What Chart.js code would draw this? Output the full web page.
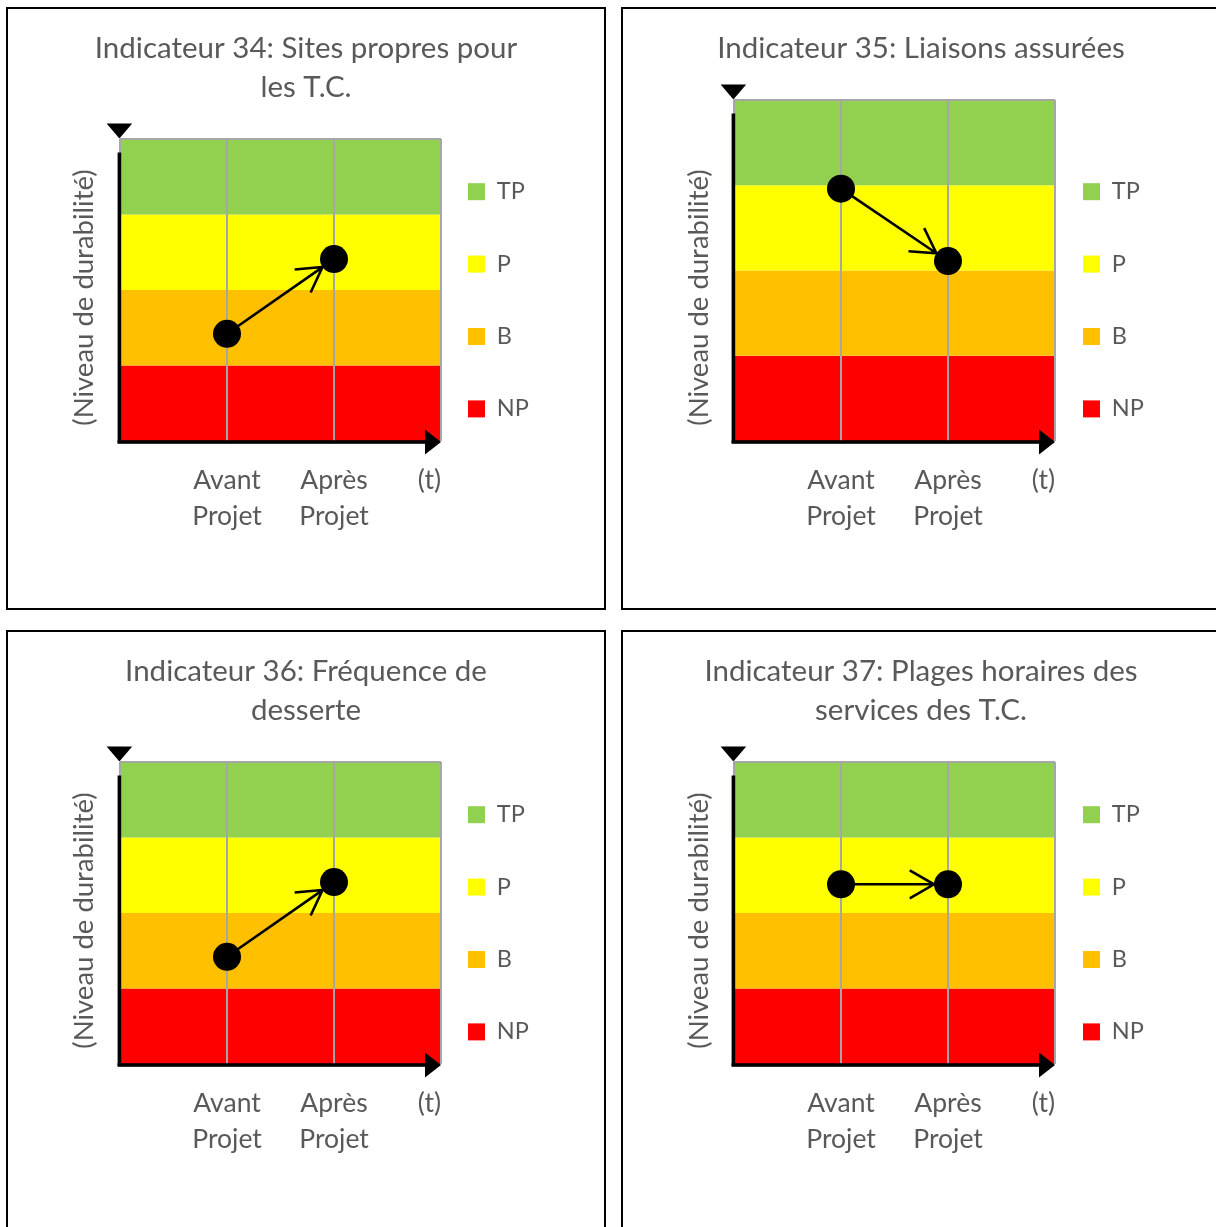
<!DOCTYPE html>
<html>
<head>
<meta charset="utf-8">
<script src="https://cdn.jsdelivr.net/npm/chart.js@4/dist/chart.umd.min.js"></script>
<style>
html, body { margin: 0; padding: 0; background: #fff; overflow: hidden; width: 1216px; height: 1227px; }
.panel { position: absolute; width: 596px; height: 599px; border: 2px solid #000; background: #fff; }
.panel canvas { display: block; }
</style>
</head>
<body>
<div class="panel" style="left:6px;top:7px"><canvas id="c34"></canvas></div>
<div class="panel" style="left:621px;top:7px"><canvas id="c35"></canvas></div>
<div class="panel" style="left:6px;top:630px"><canvas id="c36"></canvas></div>
<div class="panel" style="left:621px;top:630px"><canvas id="c37"></canvas></div>
<script>
// ---- data ----
const bandLabels = ['TP', 'P', 'B', 'NP'];
const bandTops = [4, 3, 2, 1];
const bandColors = ['#92D050', '#FFFF00', '#FFC000', '#FF0000'];
const xTickLabels = ['', ['Avant', 'Projet'], ['Après', 'Projet'], '(t)'];
const xRange = [0, 3];
const yRange = [0, 4];
const pointX = [1, 2];
const yAxisTitle = '(Niveau de durabilité)';

const title34 = ['Indicateur 34: Sites propres pour', 'les T.C.'];
const title35 = ['Indicateur 35: Liaisons assurées'];
const title36 = ['Indicateur 36: Fréquence de', 'desserte'];
const title37 = ['Indicateur 37: Plages horaires des', 'services des T.C.'];

const values34 = [1.42, 2.41];
const values35 = [2.96, 2.11];
const values36 = [1.42, 2.41];
const values37 = [2.38, 2.38];

// ---- styles ----
const FONT = 'Lato';
const TEXT = '#595959';
const GRID = '#A6A6A6';
const LEGEND_FONT = 23.5;
const LEGEND_PAD = 48.9;

Chart.defaults.font.family = FONT;
Chart.defaults.color = TEXT;

const decor = {
  id: 'decor',
  beforeLayout(chart, args, opts) {
    const lg = chart.legend;
    if (lg && !lg.__fixed) {
      const fit = lg.fit.bind(lg);
      lg.fit = function () { fit(); this.width = opts.legendWidth; };
      lg.__fixed = true;
    }
  },
  afterLayout(chart, args, opts) {
    const lg = chart.legend;
    if (!lg) return;
    lg.left = chart.chartArea.right + opts.legendGap - LEGEND_PAD;
    lg.top = opts.legendTop - LEGEND_PAD;
    lg.bottom = chart.height;
  },
  beforeDatasetDraw(chart, args) {
    if (args.index === 0) {
      chart.scales.x.drawGrid(chart.chartArea);
      chart.scales.y.drawGrid(chart.chartArea);
    }
  },
  afterDatasetsDraw(chart, args, opts) {
    const pts = chart.getDatasetMeta(0).data;
    if (pts.length < 2) return;
    const a = pts[0], b = pts[1];
    const ctx = chart.ctx;
    const dx = b.x - a.x, dy = b.y - a.y, L = Math.hypot(dx, dy);
    const ux = dx / L, uy = dy / L;
    const r = opts.pointRadius;
    const tx = b.x - ux * r, ty = b.y - uy * r;
    ctx.save();
    ctx.strokeStyle = '#000';
    ctx.lineWidth = 2.6;
    ctx.beginPath();
    ctx.moveTo(a.x, a.y);
    ctx.lineTo(tx, ty);
    const back = Math.atan2(-uy, -ux);
    const al = 28, ang = Math.PI / 6;
    ctx.moveTo(tx + al * Math.cos(back + ang), ty + al * Math.sin(back + ang));
    ctx.lineTo(tx, ty);
    ctx.lineTo(tx + al * Math.cos(back - ang), ty + al * Math.sin(back - ang));
    ctx.stroke();
    ctx.restore();
  },
  afterDraw(chart, args, opts) {
    const ctx = chart.ctx;
    const ca = chart.chartArea;
    ctx.save();
    ctx.fillStyle = '#000';
    // y axis line
    const yx = ca.left - 0.6;
    ctx.fillRect(yx - 1.8, ca.top + 13.5, 3.6, ca.bottom - ca.top - 11.5);
    // x axis line
    const xy = ca.bottom + 1;
    ctx.fillRect(ca.left - 2.4, xy - 1.8, ca.right - ca.left - 12, 3.6);
    // x arrow head
    ctx.beginPath();
    ctx.moveTo(ca.right - 16, xy - 12.5);
    ctx.lineTo(ca.right, xy);
    ctx.lineTo(ca.right - 16, xy + 12.5);
    ctx.closePath();
    ctx.fill();
    // y arrow head (pointing down)
    ctx.beginPath();
    ctx.moveTo(yx - 12.8, ca.top - 15.5);
    ctx.lineTo(yx + 12.8, ca.top - 15.5);
    ctx.lineTo(yx, ca.top - 0.5);
    ctx.closePath();
    ctx.fill();
    // y axis title
    ctx.translate(opts.yTitleX, opts.yTitleY);
    ctx.rotate(-Math.PI / 2);
    ctx.fillStyle = TEXT;
    ctx.font = '27.5px ' + FONT;
    ctx.textAlign = 'center';
    ctx.textBaseline = 'middle';
    ctx.fillText(yAxisTitle, 0, 0);
    ctx.restore();
  }
};

function makeChart(id, titleLines, values, leftWidth) {
  const datasets = [{
    label: 'points',
    data: pointX.map((x, i) => ({ x: x, y: values[i] })),
    showLine: false,
    pointRadius: 14,
    pointHoverRadius: 14,
    pointBackgroundColor: '#000',
    pointBorderColor: '#000',
    pointBorderWidth: 0,
    backgroundColor: '#000',
    borderColor: '#000'
  }];
  bandLabels.forEach((lab, i) => {
    datasets.push({
      label: lab,
      data: [{ x: xRange[0], y: bandTops[i] }, { x: xRange[1], y: bandTops[i] }],
      backgroundColor: bandColors[i],
      borderColor: 'transparent',
      borderWidth: 0,
      pointRadius: 0,
      pointHoverRadius: 0,
      fill: i === bandLabels.length - 1 ? 'origin' : '+1'
    });
  });

  return new Chart(document.getElementById(id), {
    type: 'line',
    data: { datasets: datasets },
    plugins: [decor],
    options: {
      responsive: true,
      maintainAspectRatio: false,
      animation: false,
      events: [],
      layout: { padding: 0 },
      scales: {
        x: {
          type: 'linear',
          min: xRange[0],
          max: xRange[1],
          afterFit: s => { s.height = 167; },
          grid: { color: GRID, lineWidth: 2, drawTicks: false },
          border: { display: false },
          ticks: {
            stepSize: 1,
            align: 'inner',
            maxRotation: 0,
            autoSkip: false,
            padding: 21,
            color: TEXT,
            font: { family: FONT, size: 26.5, lineHeight: '36px' },
            callback: v => xTickLabels[v] !== undefined ? xTickLabels[v] : ''
          }
        },
        y: {
          type: 'linear',
          min: yRange[0],
          max: yRange[1],
          afterFit: s => { s.width = leftWidth; },
          grid: {
            color: c => (c.tick && c.tick.value === yRange[1]) ? GRID : 'rgba(0,0,0,0)',
            lineWidth: 2,
            drawTicks: false
          },
          border: { display: false },
          ticks: { stepSize: 1, display: false }
        }
      },
      plugins: {
        tooltip: { enabled: false },
        title: {
          display: true,
          text: titleLines,
          color: TEXT,
          font: { family: FONT, size: 29.5, weight: 'normal', lineHeight: '39px' },
          padding: { top: 19.5, bottom: 32.5 }
        },
        legend: {
          display: true,
          position: 'right',
          align: 'start',
          labels: {
            filter: item => item.datasetIndex > 0,
            boxWidth: 17,
            boxHeight: 17,
            padding: LEGEND_PAD,
            color: TEXT,
            font: { family: FONT, size: LEGEND_FONT }
          }
        },
        decor: {
          legendWidth: 596 - leftWidth - 321,
          legendGap: 27 + (112 - leftWidth),
          legendTop: 182.7 - LEGEND_FONT / 2,
          pointRadius: 14,
          yTitleX: 76,
          yTitleY: 288.5
        }
      }
    }
  });
}

makeChart('c34', title34, values34, 112);
makeChart('c35', title35, values35, 111);
makeChart('c36', title36, values36, 112);
makeChart('c37', title37, values37, 111);
</script>
</body>
</html>
